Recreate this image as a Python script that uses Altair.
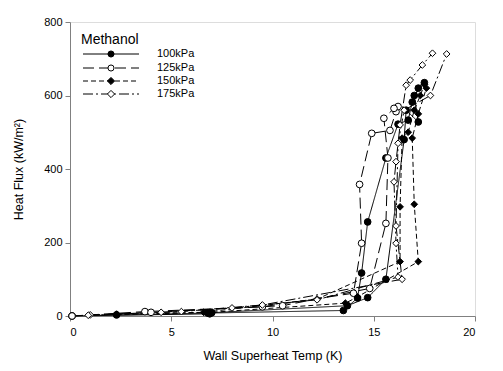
import altair as alt
import pandas as pd

# ---- data ----
# 100kPa, run 1 and run 2
x100a = [2.3, 6.8, 13.5, 14.2, 14.4, 14.7, 15.6, 16.2, 16.7, 16.9, 17.2]
y100a = [3, 8, 15, 49, 117, 256, 430, 522, 533, 582, 620]
x100b = [0.1, 6.9, 7.0, 13.7, 14.7, 15.6, 16.5, 16.6, 17.2, 17.0, 17.5]
y100b = [0, 6, 9, 28, 50, 100, 480, 560, 528, 600, 635]

# 125kPa
x125a = [0.1, 3.7, 9.5, 14.0, 14.4, 14.3, 14.9, 15.8, 16.1, 16.2]
y125a = [0, 12, 25, 62, 198, 358, 497, 505, 556, 570]
x125b = [0.1, 4.0, 10.5, 14.8, 15.6, 15.7, 15.5, 16.0]
y125b = [0, 10, 28, 75, 252, 430, 538, 565]

# 150kPa
x150a = [2.3, 6.6, 12.2, 16.3, 16.3, 16.4, 16.7, 17.0, 17.3, 17.5]
y150a = [5, 10, 46, 148, 297, 484, 500, 560, 600, 630]
x150b = [2.3, 7.0, 13.6, 14.2, 17.2, 17.0, 16.9, 17.2, 17.6]
y150b = [4, 10, 35, 52, 148, 304, 484, 550, 620]

# 175kPa
x175a = [1.0, 4.5, 8.0, 12.2, 16.2, 16.1, 16.0, 16.1, 16.3, 16.6, 16.8, 17.4, 17.9]
y175a = [3, 10, 22, 44, 106, 198, 365, 420, 520, 628, 642, 683, 715]
x175b = [0.9, 5.5, 9.5, 16.4, 16.1, 16.2, 16.5, 17.8, 18.6]
y175b = [2, 12, 30, 100, 245, 470, 560, 600, 713]

series_names = ["100kPa", "125kPa", "150kPa", "175kPa"]
legend_title = "Methanol"
runs = [
    ("100kPa", "a", x100a, y100a), ("100kPa", "b", x100b, y100b),
    ("125kPa", "a", x125a, y125a), ("125kPa", "b", x125b, y125b),
    ("150kPa", "a", x150a, y150a), ("150kPa", "b", x150b, y150b),
    ("175kPa", "a", x175a, y175a), ("175kPa", "b", x175b, y175b),
]

rows = []
for s, r, xs_, ys_ in runs:
    for i, (xv, yv) in enumerate(zip(xs_, ys_)):
        rows.append({"series": s, "run": s + r, "idx": i, "x": xv, "y": yv})
df = pd.DataFrame(rows)

FONT = "Liberation Sans"
dashes = [[1, 0], [11, 5], [5, 3], [10, 3, 2, 3]]
shapes = ["circle", "circle", "diamond", "diamond"]
fills = ["black", "white", "black", "white"]
sizes = [45, 45, 60, 60]

xs = alt.X("x:Q", scale=alt.Scale(domain=[0, 20], nice=False),
           axis=alt.Axis(values=[0, 5, 10, 15, 20], title="Wall Superheat Temp (K)",
                         grid=False, domainColor="#808080", tickColor="#808080",
                         tickSize=5, labelFont=FONT, labelFontSize=11, labelColor="black",
                         titleFont=FONT, titleFontSize=12.5, titleFontWeight="normal",
                         titleColor="black", titlePadding=12, labelPadding=5))
ys = alt.Y("y:Q", scale=alt.Scale(domain=[0, 800], nice=False),
           axis=alt.Axis(values=[0, 200, 400, 600, 800], title="Heat Flux (kW/m²)",
                         grid=False, domainColor="#808080", tickColor="#808080",
                         tickSize=5, labelFont=FONT, labelFontSize=11, labelColor="black",
                         titleFont=FONT, titleFontSize=12.5, titleFontWeight="normal",
                         titleColor="black", titlePadding=18, labelPadding=3))

base = alt.Chart(df)
lines = base.mark_line(color="black", strokeWidth=1).encode(
    x=xs, y=ys,
    strokeDash=alt.StrokeDash("series:N", scale=alt.Scale(domain=series_names, range=dashes), legend=None),
    detail="run:N",
    order="idx:Q",
)
points = base.mark_point(stroke="black", strokeWidth=1, opacity=1).encode(
    x=xs, y=ys,
    shape=alt.Shape("series:N", scale=alt.Scale(domain=series_names, range=shapes), legend=None),
    fill=alt.Fill("series:N", scale=alt.Scale(domain=series_names, range=fills), legend=None),
    size=alt.Size("series:N", scale=alt.Scale(domain=series_names, range=sizes), legend=None),
)

# ---- manual legend (one row per layer) ----
one = pd.DataFrame({"k": [0]})
leg_layers = []
leg_layers.append(alt.Chart(one).mark_text(text=legend_title, font=FONT, fontSize=14, align="left",
                                           baseline="middle", color="black").encode(
    x=alt.value(11), y=alt.value(18)))
leg_y = [32, 46, 59, 72]
for i, name in enumerate(series_names):
    yy = leg_y[i]
    leg_layers.append(alt.Chart(one).mark_rule(color="black", strokeWidth=1, strokeDash=dashes[i]).encode(
        x=alt.value(13), x2=alt.value(69), y=alt.value(yy)))
    leg_layers.append(alt.Chart(one).mark_point(shape=shapes[i], fill=fills[i], stroke="black",
                                                strokeWidth=1, size=sizes[i] - 8, opacity=1).encode(
        x=alt.value(41), y=alt.value(yy)))
    leg_layers.append(alt.Chart(one).mark_text(text=name, font=FONT, fontSize=11, align="left",
                                               baseline="middle", color="black").encode(
        x=alt.value(87), y=alt.value(yy)))

chart = alt.layer(lines, points, *leg_layers).properties(
    width=405, height=294,
    autosize=alt.AutoSizeParams(type="none"),
    padding={"left": 70, "top": 22, "right": 28, "bottom": 55},
).configure_view(stroke="#808080", strokeWidth=1).configure(background="white")

chart.save("out.html", embed_options={"renderer": "svg", "actions": False})
